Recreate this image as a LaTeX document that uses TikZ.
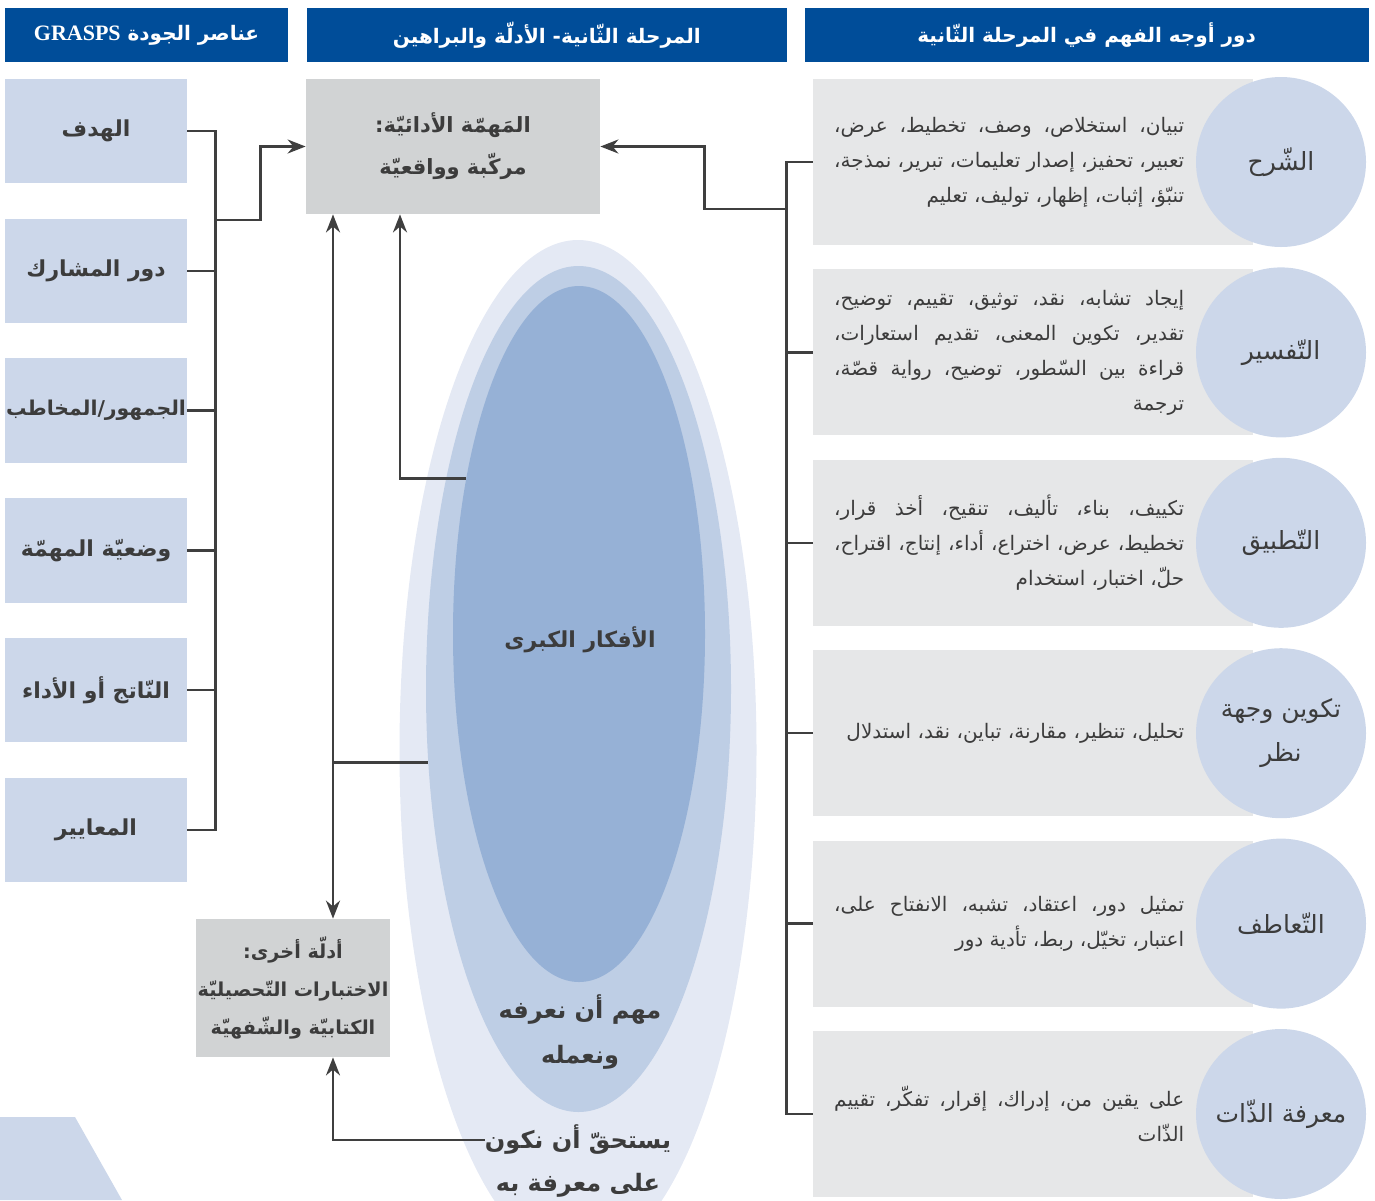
\documentclass[tikz,border=0pt]{standalone}
\usepackage{fontspec}
\usepackage{xcolor}
\usepackage{tikz}
\usetikzlibrary{positioning,arrows.meta,shapes.geometric}
\TeXXeTstate=1
\newfontfamily\arabicfont[Script=Arabic]{DejaVu Sans}
\newfontfamily\latinfont{Liberation Serif}
\newcommand{\artxt}[1]{\beginR #1\endR}
\newcommand{\jline}[1]{\hbox to 175pt{\beginR #1\endR}}

\definecolor{hdblue}{HTML}{004D99}
\definecolor{critblue}{HTML}{CCD7EA}
\definecolor{taskgray}{HTML}{D1D3D4}
\definecolor{facetgray}{HTML}{E6E7E8}
\definecolor{txtgray}{HTML}{3C3C3C}
\definecolor{linegray}{HTML}{3F3F3F}
\definecolor{ovout}{HTML}{E4E9F4}
\definecolor{ovmid}{HTML}{BECEE5}
\definecolor{ovin}{HTML}{96B1D6}

\begin{document}
\begin{tikzpicture}[
  x=0.5pt, y=-0.5pt,
  >={Stealth[length=9pt,width=7pt]},
  conn/.style={draw=linegray, line width=1.25pt},
  head/.style={fill=hdblue, text=white, minimum height=27pt, inner sep=0pt, font=\arabicfont\bfseries\fontsize{10}{12}\selectfont},
  crit/.style={fill=critblue, text=txtgray, minimum width=91pt, minimum height=52.25pt, inner sep=0pt, font=\arabicfont\bfseries\fontsize{11}{13}\selectfont},
  task/.style={fill=taskgray, text=txtgray, align=center, inner sep=0pt, font=\arabicfont\bfseries\fontsize{10.5}{21}\selectfont},
  facet/.style={fill=facetgray, minimum width=220pt, minimum height=83pt, inner sep=0pt},
  facettxt/.style={text=txtgray, align=right, inner sep=0pt, font=\arabicfont\fontsize{10}{17.5}\selectfont},
  ring/.style={circle, fill=critblue, text=txtgray, minimum size=85pt, inner sep=0pt, align=center, font=\arabicfont\fontsize{12.5}{22}\selectfont},
  oval/.style={ellipse, inner sep=0pt},
  lbl/.style={text=txtgray, align=center, inner sep=0pt, font=\arabicfont\bfseries\fontsize{12}{22.5}\selectfont},
]
\useasboundingbox (0,0) rectangle (1375,1200);

% headers
\node[head, minimum width=141.5pt] (hg) at (146.5,35) {\artxt{عناصر الجودة \beginL{\latinfont\bfseries\fontsize{11}{12}\selectfont GRASPS}\endL}};
\node[head, minimum width=240pt, right=9pt of hg] (hs) {\artxt{المرحلة الثّانية- الأدلّة والبراهين}};
\node[head, minimum width=282pt, right=8.5pt of hs] (hf) {\artxt{دور أوجه الفهم في المرحلة الثّانية}};

% GRASPS
\node[crit] (g1) at (96,131) {\artxt{الهدف}};
\node[crit, below=17.25pt of g1] (g2) {\artxt{دور المشارك}};
\node[crit, below=17.25pt of g2, font=\arabicfont\bfseries\fontsize{10.2}{12}\selectfont] (g3) {\artxt{الجمهور/المخاطب}};
\node[crit, below=17.25pt of g3] (g4) {\artxt{وضعيّة المهمّة}};
\node[crit, below=17.25pt of g4] (g5) {\artxt{النّاتج أو الأداء}};
\node[crit, below=17.25pt of g5] (g6) {\artxt{المعايير}};

% tasks
\node[task, minimum width=147pt, minimum height=67.5pt] (task) at (453,146.5) {\artxt{المَهمّة الأدائيّة:}\\\artxt{مركّبة وواقعيّة}};
\node[task, minimum width=97pt, minimum height=69pt, font=\arabicfont\bfseries\fontsize{9.6}{19}\selectfont] (evid) at (293,988) {\artxt{أدلّة أخرى:}\\\artxt{الاختبارات التّحصيليّة}\\\artxt{الكتابيّة والشّفهيّة}};

% facets
\node[facet] (f1) at (1033,162) {};
\node[facet, below=11.8pt of f1] (f2) {};
\node[facet, below=11.8pt of f2] (f3) {};
\node[facet, below=11.8pt of f3] (f4) {};
\node[facet, below=11.8pt of f4] (f5) {};
\node[facet, below=11.8pt of f5] (f6) {};
\node[ring] (c1) at ([xshift=124pt]f1.center) {\artxt{الشّرح}};
\node[ring] (c2) at ([xshift=124pt]f2.center) {\artxt{التّفسير}};
\node[ring] (c3) at ([xshift=124pt]f3.center) {\artxt{التّطبيق}};
\node[ring] (c4) at ([xshift=124pt]f4.center) {\artxt{تكوين وجهة}\\\artxt{نظر}};
\node[ring] (c5) at ([xshift=124pt]f5.center) {\artxt{التّعاطف}};
\node[ring] (c6) at ([xshift=124pt]f6.center) {\artxt{معرفة الذّات}};
\node[facettxt, left=5.5pt of c1] (t1) {\jline{تبيان، استخلاص، وصف، تخطيط، عرض،}\\\jline{تعبير، تحفيز، إصدار تعليمات، تبرير، نمذجة،}\\\artxt{تنبّؤ، إثبات، إظهار، توليف، تعليم}};
\node[facettxt, left=5.5pt of c2] (t2) {\jline{إيجاد تشابه، نقد، توثيق، تقييم، توضيح،}\\\jline{تقدير، تكوين المعنى، تقديم استعارات،}\\\jline{قراءة بين السّطور، توضيح، رواية قصّة،}\\\artxt{ترجمة}};
\node[facettxt, left=5.5pt of c3] (t3) {\jline{تكييف، بناء، تأليف، تنقيح، أخذ قرار،}\\\jline{تخطيط، عرض، اختراع، أداء، إنتاج، اقتراح،}\\\artxt{حلّ، اختبار، استخدام}};
\node[facettxt, left=5.5pt of c4] (t4) {\artxt{تحليل، تنظير، مقارنة، تباين، نقد، استدلال}};
\node[facettxt, left=5.5pt of c5] (t5) {\jline{تمثيل دور، اعتقاد، تشبه، الانفتاح على،}\\\artxt{اعتبار، تخيّل، ربط، تأدية دور}};
\node[facettxt, left=5.5pt of c6] (t6) {\jline{على يقين من، إدراك، إقرار، تفكّر، تقييم}\\\artxt{الذّات}};

% big ideas
\node[oval, fill=ovout, minimum width=178.5pt, minimum height=510pt] (outer) at (578,750) {};
\node[oval, fill=ovmid, minimum width=152.5pt, minimum height=423pt] (mid) at (578.5,689) {};
\node[oval, fill=ovin, minimum width=126pt, minimum height=348pt] (inner) at (579,634) {};
\node[lbl, font=\arabicfont\bfseries\fontsize{11}{13}\selectfont] (big) at (580,640) {\artxt{الأفكار الكبرى}};
\node[lbl] (imp) at (580,1032) {\artxt{مهم أن نعرفه}\\\artxt{ونعمله}};
\node[lbl] (k1) at (578,1140) {\artxt{يستحقّ أن نكون}};
\node[lbl] (k2) at (578,1185) {\artxt{على معرفة به}};

% corner
\fill[critblue] (0,1117) -- (75,1117) -- (122,1200) -- (0,1200) -- cycle;

% connectors
\draw[conn] (g1.east) -- ++(14pt,0) coordinate (gbus) |- (g6.east);
\draw[conn] (g2.east) -- (g2.east -| gbus);
\draw[conn] (g3.east) -- (g3.east -| gbus);
\draw[conn] (g4.east) -- (g4.east -| gbus);
\draw[conn] (g5.east) -- (g5.east -| gbus);
\path (gbus) ++(0,89) coordinate (gout);
\draw[conn, ->] (gout) -- ++(45,0) |- (task.west);

\draw[conn] (f1.west) -- ++(-13pt,0) coordinate (fbus) |- (f6.west);
\draw[conn] (f2.west) -- (f2.west -| fbus);
\draw[conn] (f3.west) -- (f3.west -| fbus);
\draw[conn] (f4.west) -- (f4.west -| fbus);
\draw[conn] (f5.west) -- (f5.west -| fbus);
\path (fbus) ++(0,47) coordinate (fout);
\draw[conn, ->] (fout) -- ++(-82,0) |- (task.east);

\path ([xshift=-60pt]task.south) coordinate (tsl);
\path ([xshift=20pt]evid.north) coordinate (etop);
\path ([xshift=20pt]evid.south) coordinate (ebot);
\coordinate (mj) at (tsl |- mid.206);
\draw[conn, ->] (inner.126) -| ([xshift=-26.5pt]task.south);
\draw[conn, ->] (mid.206) -- (mj) -- (tsl);
\draw[conn, ->] (mj) -- (etop);
\draw[conn, ->] (k1.west) -| (ebot);
\end{tikzpicture}
\end{document}
